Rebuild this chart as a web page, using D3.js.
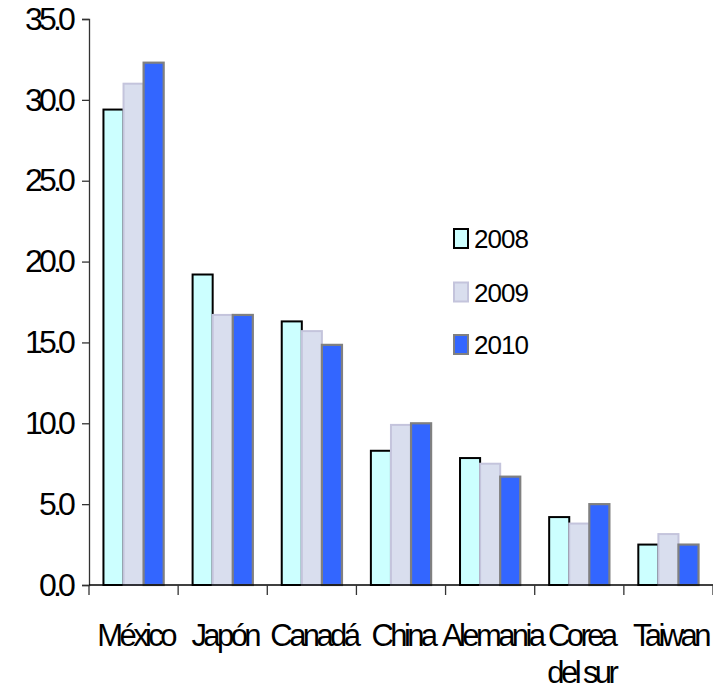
<!DOCTYPE html>
<html>
<head>
<meta charset="utf-8">
<script src="https://cdn.jsdelivr.net/npm/d3@7/dist/d3.min.js"></script>
<style>
  html, body { margin: 0; padding: 0; background: #ffffff; }
  svg { display: block; }
  text { font-family: "Liberation Sans", Arial, sans-serif; fill: #000; }
</style>
</head>
<body>
<svg id="chart" width="713" height="691"></svg>
<script>
// Country groups (multi-line labels split on "\n")
const categories = ["México", "Japón", "Canadá", "China", "Alemania", "Corea\ndel sur", "Taiwan"];
const years = ["2008", "2009", "2010"];
const values2008 = [29.4, 19.2, 16.3, 8.3, 7.85, 4.2, 2.5];
const values2009 = [31.0, 16.7, 15.7, 9.9, 7.5, 3.8, 3.15];
const values2010 = [32.3, 16.7, 14.85, 10.0, 6.7, 5.0, 2.5];
const yTicks = [0, 5, 10, 15, 20, 25, 30, 35];

const seriesValues = [values2008, values2009, values2010];
const fills = ["#ccffff", "#d9deee", "#3366ff"];
const strokes = ["#000000", "#c4c4dc", "#808080"];
const strokeWidths = [2, 2, 2.2];

const svg = d3.select("#chart");
const plotLeft = 89, plotRight = 713, plotTop = 19, plotBottom = 585;

const x0 = d3.scaleBand().domain(categories).range([plotLeft, plotRight]).padding(0);
const x1 = d3.scaleBand().domain(years).range([0, x0.bandwidth()]).paddingInner(0).paddingOuter(0.72);
const y = d3.scaleLinear().domain([0, 35]).range([plotBottom, plotTop]);

// Bars
const groups = svg.append("g").selectAll("g")
  .data(categories)
  .join("g")
  .attr("transform", d => `translate(${x0(d)},0)`);

groups.selectAll("rect")
  .data((c, i) => years.map((yr, k) => ({ yr, k, v: seriesValues[k][i] })))
  .join("rect")
  .attr("x", d => x1(d.yr))
  .attr("width", x1.bandwidth())
  .attr("y", d => y(d.v))
  .attr("height", d => plotBottom - y(d.v))
  .attr("fill", d => fills[d.k])
  .attr("stroke", d => strokes[d.k])
  .attr("stroke-width", d => strokeWidths[d.k]);

// Y axis
const yAxis = svg.append("g")
  .attr("transform", `translate(${plotLeft},0)`)
  .call(d3.axisLeft(y).tickValues(yTicks).tickFormat(d3.format(".1f")).tickSize(7).tickPadding(10));
yAxis.select(".domain").attr("stroke", "#333").attr("stroke-width", 1.3);
yAxis.selectAll(".tick line").attr("stroke", "#333").attr("stroke-width", 1.3);
yAxis.selectAll(".tick text")
  .attr("font-size", 32)
  .attr("letter-spacing", "-3.8px")
  .attr("fill", "#000")
  .style("font-family", "'Liberation Sans', Arial, sans-serif");

// X axis: baseline and boundary ticks between country groups
const xAxis = svg.append("g");
xAxis.append("line")
  .attr("x1", plotLeft).attr("x2", plotRight)
  .attr("y1", y(0)).attr("y2", y(0))
  .attr("stroke", "#000").attr("stroke-width", 1.5);
const boundaries = categories.map(c => x0(c)).concat([x0.range()[1]]);
xAxis.selectAll("line.b")
  .data(boundaries)
  .join("line")
  .attr("class", "b")
  .attr("x1", d => d).attr("x2", d => d)
  .attr("y1", y(0)).attr("y2", y(0) + 10)
  .attr("stroke", "#333").attr("stroke-width", 1.3);

// Category labels
const labels = xAxis.selectAll("text.cat")
  .data(categories)
  .join("text")
  .attr("class", "cat")
  .attr("text-anchor", "middle")
  .attr("font-size", 31)
  .attr("letter-spacing", "-3.6px");
labels.selectAll("tspan")
  .data(d => d.split("\n").map(t => ({ t, c: d })))
  .join("tspan")
  .attr("x", d => x0(d.c) + x0.bandwidth() / 2 + 2)
  .attr("y", (d, i) => 646 + i * 37)
  .text(d => d.t);

// Legend
const legend = svg.append("g");
const legendY = [238.5, 292, 344.5];
years.forEach((yr, k) => {
  legend.append("rect")
    .attr("x", 454).attr("y", legendY[k] - 9.5)
    .attr("width", 14).attr("height", 19)
    .attr("fill", fills[k]).attr("stroke", strokes[k]).attr("stroke-width", 2);
  legend.append("text")
    .attr("x", 474).attr("y", legendY[k] + 9.5)
    .attr("font-size", 26)
    .attr("letter-spacing", "-1px")
    .text(yr);
});
</script>
</body>
</html>
